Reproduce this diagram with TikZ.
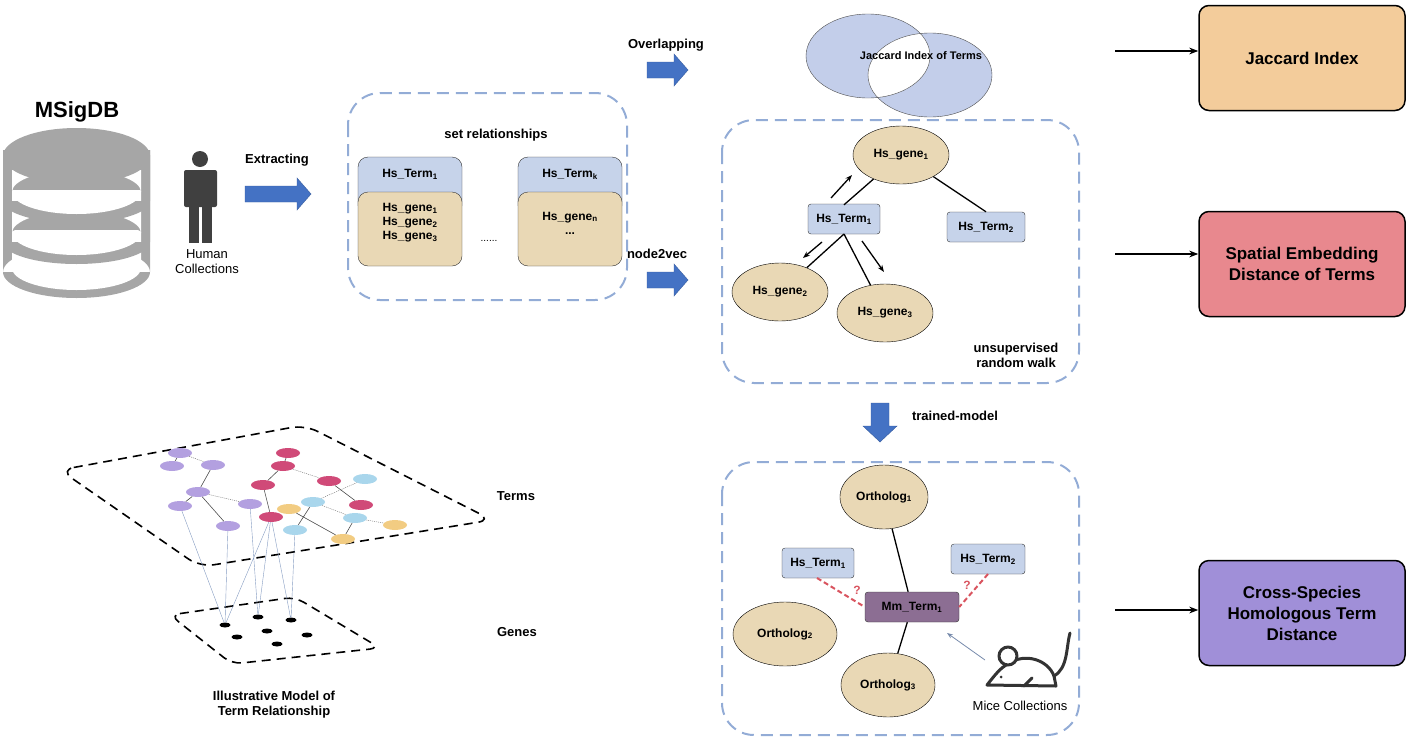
\documentclass[tikz,border=0pt]{standalone}
\usepackage{fontspec}
\setmainfont{Liberation Sans}
\usetikzlibrary{shapes.geometric,arrows.meta}
\definecolor{dbg}{HTML}{A6A6A6}
\definecolor{dashb}{HTML}{93ACD6}
\definecolor{termb}{HTML}{C6D3EA}
\definecolor{tan}{HTML}{E9D8B5}
\definecolor{arrb}{HTML}{4472C4}
\definecolor{jac}{HTML}{F3CC9B}
\definecolor{spat}{HTML}{E8888E}
\definecolor{cross}{HTML}{A08FD8}
\definecolor{mm}{HTML}{8C6E93}
\definecolor{qred}{HTML}{D9545F}
\definecolor{np}{HTML}{B3A0E0}
\definecolor{nr}{HTML}{D04A78}
\definecolor{nb}{HTML}{A9D6EC}
\definecolor{ny}{HTML}{F2CC82}
\definecolor{venn}{HTML}{C3CEEA}
\newcommand\myblarrow[3]{% x start, y, length
  \filldraw[fill=arrb,draw=arrb!80!black] (#1,#2-8) -- ++(#3-14,0) -- ++(0,-8) -- (#1+#3,#2) -- (#1+#3-14,#2+16) -- ++(0,-8) -- (#1,#2+8) -- cycle;}
\begin{document}
\begin{tikzpicture}[x=1pt,y=-1pt,
  bt/.style={font=\bfseries\fontsize{13}{15}\selectfont},
  dbox/.style={draw=dashb,line width=2pt,dash pattern=on 12pt off 7pt,rounded corners=32pt},
  term/.style={draw=black!80,fill=termb,rounded corners=3pt,minimum width=72pt,minimum height=30pt,font=\bfseries\fontsize{12}{14}\selectfont},
  gene/.style={ellipse,draw=black,fill=tan,minimum width=96pt,minimum height=58pt,font=\bfseries\fontsize{12}{14}\selectfont},
  orth/.style={ellipse,draw=black,fill=tan,minimum width=100pt,minimum height=64pt,font=\bfseries\fontsize{12}{14}\selectfont},
  big/.style={draw=black,line width=1.5pt,rounded corners=10pt,minimum width=206pt,minimum height=105pt,align=center,font=\bfseries\fontsize{17}{21}\selectfont},
  cn/.style={line width=1.3pt},
  tn/.style={ellipse,minimum width=24pt,minimum height=10pt,inner sep=0pt},
  gd/.style={ellipse,fill=black,minimum width=11pt,minimum height=5pt,inner sep=0pt},
  ge/.style={draw=black!70,line width=0.6pt},
  gd2/.style={draw=black!60,line width=0.4pt,dash pattern=on 1pt off 1pt},
  ve/.style={draw=dashb!90!black,line width=0.4pt}
]
\useasboundingbox (0,0) rectangle (1408,739);
% database
\node[font=\bfseries\fontsize{22}{26}\selectfont] (msig) at (77,112) {MSigDB};
\fill[dbg] (3,155) rectangle (150,272) (76.5,272) ellipse (73.5 and 26);
\fill[white] (12,230) rectangle (141,268) (76.5,268) ellipse (64.5 and 22);
\fill[dbg] (3,150) rectangle (150,242) (76.5,242) ellipse (73.5 and 22);
\fill[white] (12,190) rectangle (141,233) (76.5,233) ellipse (64.5 and 22);
\fill[dbg] (3,150) rectangle (150,201) (76.5,201) ellipse (73.5 and 22);
\fill[white] (12,170) rectangle (141,192) (76.5,192) ellipse (64.5 and 22);
\fill[dbg] (76.5,156) ellipse (73.5 and 28);
% person
\fill[black!75] (200,159) circle (8);
\fill[black!75,rounded corners=2pt] (184,170) rectangle (217,207);
\fill[black!75] (189,200) rectangle (199,243);
\fill[black!75] (202,200) rectangle (212,243);
\node[align=center,font=\fontsize{13}{15}\selectfont] (hc) at (207,262) {Human\\Collections};
\node[bt] (ext) at (277,160) {Extracting};
\myblarrow{245}{194}{66}
% box 1
\draw[dbox] (348,93) rectangle (627,300);
\node[bt] (sr) at (496,135) {set relationships};
\foreach \x/\t/\g in {410/Hs\_Term$_\mathbf{1}$/{Hs\_gene$_\mathbf{1}$\\Hs\_gene$_\mathbf{2}$\\Hs\_gene$_\mathbf{3}$},570/Hs\_Term$_\mathbf{k}$/{Hs\_gene$_\mathbf{n}$\\...}}{
  \fill[termb,draw=black!80,rounded corners=10pt] (\x-52,157) rectangle (\x+52,215);
  \fill[tan,draw=black!80,rounded corners=10pt] (\x-52,192) rectangle (\x+52,266);
  \node[font=\bfseries\fontsize{12}{14}\selectfont] at (\x,174) {\t};
  \node[align=center,font=\bfseries\fontsize{12}{14}\selectfont] at (\x,223) {\g};
}
\node (dots) at (489,241) {......};
% overlapping
\node[bt] (ov) at (666,45) {Overlapping};
\myblarrow{647}{70}{41}
\node[bt] (n2v) at (657,254) {node2vec};
\myblarrow{647}{280}{41}
% venn
\fill[venn] (868,56) ellipse (62 and 42) (930,75) ellipse (62 and 42);
\begin{scope}
\clip (868,56) ellipse (62 and 42);
\fill[white] (930,75) ellipse (62 and 42);
\end{scope}
\draw[draw=black!70] (930,75) ellipse (62 and 42);
\draw[draw=black!70] (868,56) ellipse (62 and 42);
\node[font=\bfseries\fontsize{11}{13}\selectfont] (jt) at (921,56) {Jaccard Index of Terms};
% box 2
\draw[dbox] (722,120) rectangle (1079,383);
\node[gene] (g1) at (901,155) {Hs\_gene$_\mathbf{1}$};
\node[term] (t1) at (844,219) {Hs\_Term$_\mathbf{1}$};
\node[term,minimum width=78pt] (t2) at (986,227) {Hs\_Term$_\mathbf{2}$};
\node[gene] (g2) at (780,292) {Hs\_gene$_\mathbf{2}$};
\node[gene] (g3) at (885,313) {Hs\_gene$_\mathbf{3}$};
\draw[cn] (t1.north)++(0,1) -- (g1);
\draw[cn] (g1) -- (t2.north);
\draw[cn] (844,234) -- (g2);
\draw[cn] (844,234) -- (g3);
\coordinate (r1) at (831,198); \coordinate (r2) at (852,175);
\coordinate (r3) at (822,242); \coordinate (r4) at (803,258);
\coordinate (r5) at (862,241); \coordinate (r6) at (884,272);
\draw[cn,-{Stealth[length=7pt]}] (r1) -- (r2);
\draw[cn,-{Stealth[length=7pt]}] (r3) -- (r4);
\draw[cn,-{Stealth[length=7pt]}] (r5) -- (r6);
\node[bt,align=center] (rw) at (1016,355) {unsupervised\\random walk};
\filldraw[fill=arrb,draw=arrb!80!black] (871,403) -- (889,403) -- (889,426) -- (897,426) -- (880,442) -- (863,426) -- (871,426) -- cycle;
\node[bt] (tm) at (955,416) {trained-model};
% box 3
\draw[dbox] (722,462) rectangle (1079,735);
\node[orth,minimum width=86pt] (o1) at (884,497) {Ortholog$_\mathbf{1}$};
\node[orth,minimum width=104pt] (o2) at (785,634) {Ortholog$_\mathbf{2}$};
\node[orth,minimum width=94pt] (o3) at (888,685) {Ortholog$_\mathbf{3}$};
\node[term,fill=mm,minimum width=94pt] (mm) at (912,607) {Mm\_Term$_\mathbf{1}$};
\node[term] (h1) at (818,563) {Hs\_Term$_\mathbf{1}$};
\node[term,minimum width=74pt] (h2) at (988,559) {Hs\_Term$_\mathbf{2}$};
\draw[cn] (o1) -- (mm);
\draw[cn] (mm) -- (o3);
\draw[qred,line width=2pt,dash pattern=on 5pt off 3pt] (817,578) -- (mm.west);
\draw[qred,line width=2pt,dash pattern=on 5pt off 3pt] (988,574) -- (mm.east);
\node[text=qred,font=\bfseries\fontsize{12}{14}\selectfont] (q1) at (857,590) {?};
\node[text=qred,font=\bfseries\fontsize{12}{14}\selectfont] (q2) at (967,585) {?};
% mouse
\begin{scope}[line width=3pt,draw=black!80,line cap=round,line join=round]
\draw (987,685) .. controls (995,675) and (1000,668) .. (1008,664) .. controls (1025,652) and (1048,660) .. (1054,676) -- (1056,686) -- cycle;
\fill[white] (1008,656) circle (9);
\draw (1008,656) circle (9);
\draw (1054,676) .. controls (1068,668) and (1066,648) .. (1070,633);
\draw (1024,686) -- (1032,678);
\end{scope}
\fill[black!80] (1001,677) circle (1.5);
\coordinate (mc) at (985,660);
\draw[draw=dashb!80!black,line width=0.8pt,-{Stealth[length=6pt]}] (mc) -- (947,633);
\node[font=\fontsize{13}{15}\selectfont] (mice) at (1020,706) {Mice Collections};
% right boxes
\node[big,fill=jac] (jb) at (1302,58) {Jaccard Index};
\node[big,fill=spat] (sb) at (1302,264) {Spatial Embedding\\Distance of Terms};
\node[big,fill=cross] (cb) at (1302,613) {Cross-Species\\Homologous Term\\Distance};
\coordinate (s1) at (1115,51); \coordinate (s2) at (1115,254); \coordinate (s3) at (1115,610);
\draw[line width=1.5pt,-{Stealth[length=9pt]}] (s1) -- (jb.west|-s1);
\draw[line width=1.5pt,-{Stealth[length=9pt]}] (s2) -- (sb.west|-s2);
\draw[line width=1.5pt,-{Stealth[length=9pt]}] (s3) -- (cb.west|-s3);
% illustrative model
\draw[line width=1.6pt,dash pattern=on 9pt off 6pt,rounded corners=14pt] (60,470) -- (305,425) -- (492,520) -- (200,567) -- cycle;
\draw[line width=1.6pt,dash pattern=on 9pt off 6pt,rounded corners=10pt] (170,615) -- (295,597) -- (380,648) -- (232,664) -- cycle;
\node[bt] (terms) at (516,496) {Terms};
\node[bt] (genes) at (517,632) {Genes};
\node[bt,align=center] (ill) at (274,705) {Illustrative Model of\\Term Relationship};
\foreach \n/\x/\y/\c in {p1/180/453/np,p2/172/466/np,p3/213/465/np,p4/198/492/np,p5/180/506/np,p6/228/526/np,p7/250/504/np,
  r1/288/453/nr,r2/283/466/nr,r3/263/485/nr,r4/271/517/nr,r5/329/481/nr,r6/361/505/nr,
  b1/365/479/nb,b2/313/502/nb,b3/355/518/nb,b4/295/530/nb,
  y1/289/509/ny,y2/343/539/ny,y3/395/525/ny}
  \node[tn,fill=\c] (\n) at (\x,\y) {};
\foreach \n/\x/\y in {d1/225/625,d2/258/617,d3/291/620,d4/237/637,d5/267/631,d6/307/635,d7/277/644}
  \node[gd] (\n) at (\x,\y) {};
\draw[ge] (p1)--(p2) (p3)--(p4) (p4)--(p5) (p4)--(p6) (r1)--(r2) (r2)--(r3) (r3)--(r4) (b2)--(b4) (b3)--(y2) (r5)--(r6) (y1)--(y2);
\draw[gd2] (p1)--(p3) (p4)--(p7) (r2)--(r5) (b2)--(b1) (b2)--(b3) (b3)--(y3);
\draw[ve] (p5)--(d1) (p6)--(d1) (p7)--(d2) (r4)--(d1) (r4)--(d2) (r4)--(d3) (r4)--(d2) (b4)--(d3);
\end{tikzpicture}
\end{document}
